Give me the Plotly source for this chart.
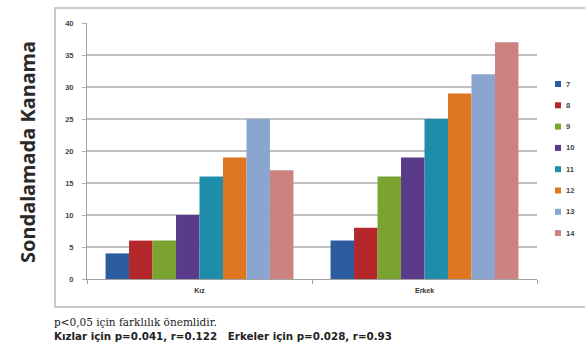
import plotly.graph_objects as go

# Groups on the x axis and the age series drawn in each group
groups = ["Kız", "Erkek"]
ages = ["7", "8", "9", "10", "11", "12", "13", "14"]
kiz = [4, 6, 6, 10, 16, 19, 25, 17]
erkek = [6, 8, 16, 19, 25, 29, 32, 37]
colors = ["#2c5c9e", "#b3272a", "#7aa42f", "#5a3a8a", "#1f8daa",
          "#df7620", "#8aa6cf", "#cd8282"]
y_ticks = [0, 5, 10, 15, 20, 25, 30, 35, 40]

W, H = 585, 349
M = dict(l=87, r=48, t=23, b=70)
plot_w = W - M["l"] - M["r"]
plot_h = H - M["t"] - M["b"]


def px_x(x):
    return (x - M["l"]) / plot_w


def px_y(y):
    return (H - M["b"] - y) / plot_h


fig = go.Figure()
for i, age in enumerate(ages):
    fig.add_trace(go.Bar(
        name=age, x=groups, y=[kiz[i], erkek[i]],
        marker=dict(color=colors[i], line=dict(width=0)),
        showlegend=False,
    ))

fig.update_layout(
    width=W, height=H,
    margin=dict(**M, autoexpand=False),
    paper_bgcolor="white", plot_bgcolor="white",
    barmode="group", bargap=0.165, bargroupgap=0,
    font=dict(family="Liberation Sans, Arial, sans-serif", color="#333333"),
    xaxis=dict(
        showline=True, linecolor="#a0a0a0", linewidth=1,
        ticks="outside", tickson="boundaries", ticklen=4, tickcolor="#a0a0a0",
        tickfont=dict(size=7, color="#333333", weight="bold"),
        ticklabelstandoff=5,
        showgrid=False,
    ),
    yaxis=dict(
        range=[0, 40], tickvals=y_ticks,
        showline=True, linecolor="#a0a0a0", linewidth=1,
        ticks="outside", ticklen=4, tickcolor="#b0b0b0",
        tickfont=dict(size=7.5, color="#444444", weight="bold"),
        ticklabelstandoff=7,
        showgrid=True, gridcolor="#c0c0c0", gridwidth=1.5,
        zeroline=False,
    ),
)

# Outer chart frame
fig.add_shape(type="rect", xref="paper", yref="paper",
              x0=px_x(55), x1=px_x(600), y0=px_y(307), y1=px_y(8),
              line=dict(color="#b8b8b8", width=1.5), fillcolor="rgba(0,0,0,0)")

# Legend: small colour squares with age labels to the right
for i, age in enumerate(ages):
    cy = 84 + 21.3 * i
    fig.add_shape(type="rect", xref="paper", yref="paper",
                  x0=px_x(555), x1=px_x(561), y0=px_y(cy + 3), y1=px_y(cy - 3),
                  line=dict(width=0), fillcolor=colors[i])
    fig.add_annotation(text=age, xref="paper", yref="paper",
                       x=px_x(564), y=px_y(cy), xanchor="left", yanchor="middle",
                       showarrow=False,
                       font=dict(size=7.5, color="#444444", weight="bold"))

# Vertical axis title
fig.add_annotation(
    text="<b>Sondalamada Kanama</b>", xref="paper", yref="paper",
    x=px_x(27), y=px_y(152), xanchor="center", yanchor="middle", textangle=-90,
    showarrow=False, font=dict(size=20, family="Noto Sans, sans-serif", color="#2a2a2a"),
)

# Notes under the chart
fig.add_annotation(
    text="p<0,05 için farklılık önemlidir.", xref="paper", yref="paper",
    x=px_x(52), y=px_y(322), xanchor="left", yanchor="middle", showarrow=False,
    font=dict(size=10.5, family="DejaVu Serif, serif", color="#222222"),
)
fig.add_annotation(
    text="<b>Kızlar için p=0.041, r=0.122   Erkeler için p=0.028, r=0.93</b>",
    xref="paper", yref="paper",
    x=px_x(52), y=px_y(335.5), xanchor="left", yanchor="middle", showarrow=False,
    font=dict(size=10.3, family="DejaVu Sans, sans-serif", color="#222222"),
)

fig.write_html("out.html")
